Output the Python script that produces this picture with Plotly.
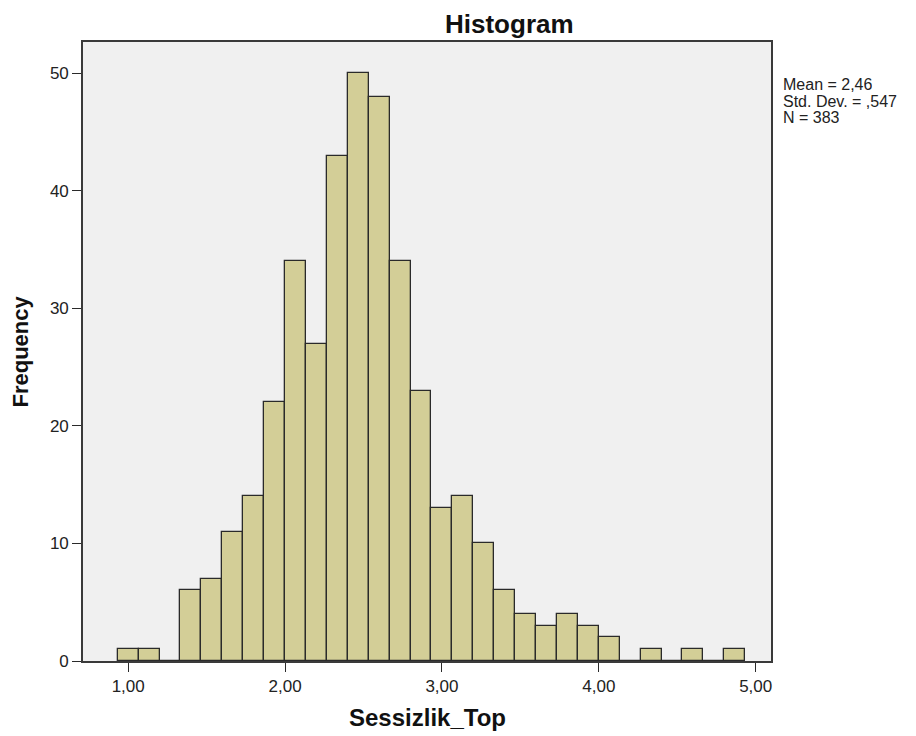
import plotly.graph_objects as go

# Histogram data (SPSS-style bins)
bin_start = 14 / 15
bin_width = 2 / 15
counts = [1, 1, 0, 6, 7, 11, 14, 22, 34, 27, 43, 50, 48, 34, 23,
          13, 14, 10, 6, 4, 3, 4, 3, 2, 0, 1, 0, 1, 0, 1]
x_ticks = [1, 2, 3, 4, 5]
y_ticks = [0, 10, 20, 30, 40, 50]
stats_text = ["Mean = 2,46", "Std. Dev. = ,547", "N = 383"]

centers = [bin_start + bin_width * (i + 0.5) for i in range(len(counts))]

W, H = 916, 736
L, T = 75, 34
PW, PH = 688, 619
R = W - L - PW
B = H - T - PH
OFF = 8  # page body margin


def px_x(X):
    return (X - OFF - L) / PW


def px_y(Y):
    return (T + PH - (Y - OFF)) / PH


fig = go.Figure()
fig.add_trace(go.Bar(
    x=centers, y=counts, width=bin_width,
    marker=dict(color="#D3CE97", line=dict(color="#2a2a2a", width=1.3)),
    hoverinfo="skip",
))

font = "Arial, Liberation Sans, sans-serif"
axis_common = dict(
    ticks="outside", ticklen=9, tickcolor="#2a2a2a", tickwidth=1.3,
    showgrid=False, zeroline=False,
    showline=True, linecolor="#3a3a3a", linewidth=1.6, mirror=True,
    tickfont=dict(size=17, family=font, color="#222222"),
)
fig.update_layout(
    width=W, height=H,
    margin=dict(l=L, r=R, t=T, b=B),
    paper_bgcolor="white",
    plot_bgcolor="#F0F0F0",
    separators=",.",
    showlegend=False,
    font=dict(family=font, size=12, color="#222222"),
    xaxis=dict(range=[0.712, 5.0975], tickvals=x_ticks, tickformat=".2f", **axis_common),
    yaxis=dict(range=[0, 52.66], tickvals=y_ticks, **axis_common),
    bargap=0,
)

# Title
fig.add_annotation(
    text="<b>Histogram</b>", xref="paper", yref="paper",
    x=px_x(509.5), y=px_y(24), xanchor="center", yanchor="middle",
    showarrow=False, font=dict(size=26, family=font, color="#111111"),
)
# Axis titles
fig.add_annotation(
    text="<b>Sessizlik_Top</b>", xref="paper", yref="paper",
    x=px_x(427.5), y=px_y(717.5), xanchor="center", yanchor="middle",
    showarrow=False, font=dict(size=24, family=font, color="#111111"),
)
fig.add_annotation(
    text="<b>Frequency</b>", xref="paper", yref="paper",
    x=px_x(20), y=px_y(351.5), xanchor="center", yanchor="middle",
    textangle=-90, showarrow=False,
    font=dict(size=22, family=font, color="#111111"),
)
# Statistics box (one line per annotation, tight SPSS-like spacing)
for i, line in enumerate(stats_text):
    fig.add_annotation(
        text=line, xref="paper", yref="paper",
        x=px_x(782), y=px_y(84 + 16.7 * i), xanchor="left", yanchor="middle",
        align="left", showarrow=False, height=16, borderpad=0,
        font=dict(size=16, family=font, color="#222222"),
    )

fig.write_html("out.html")
